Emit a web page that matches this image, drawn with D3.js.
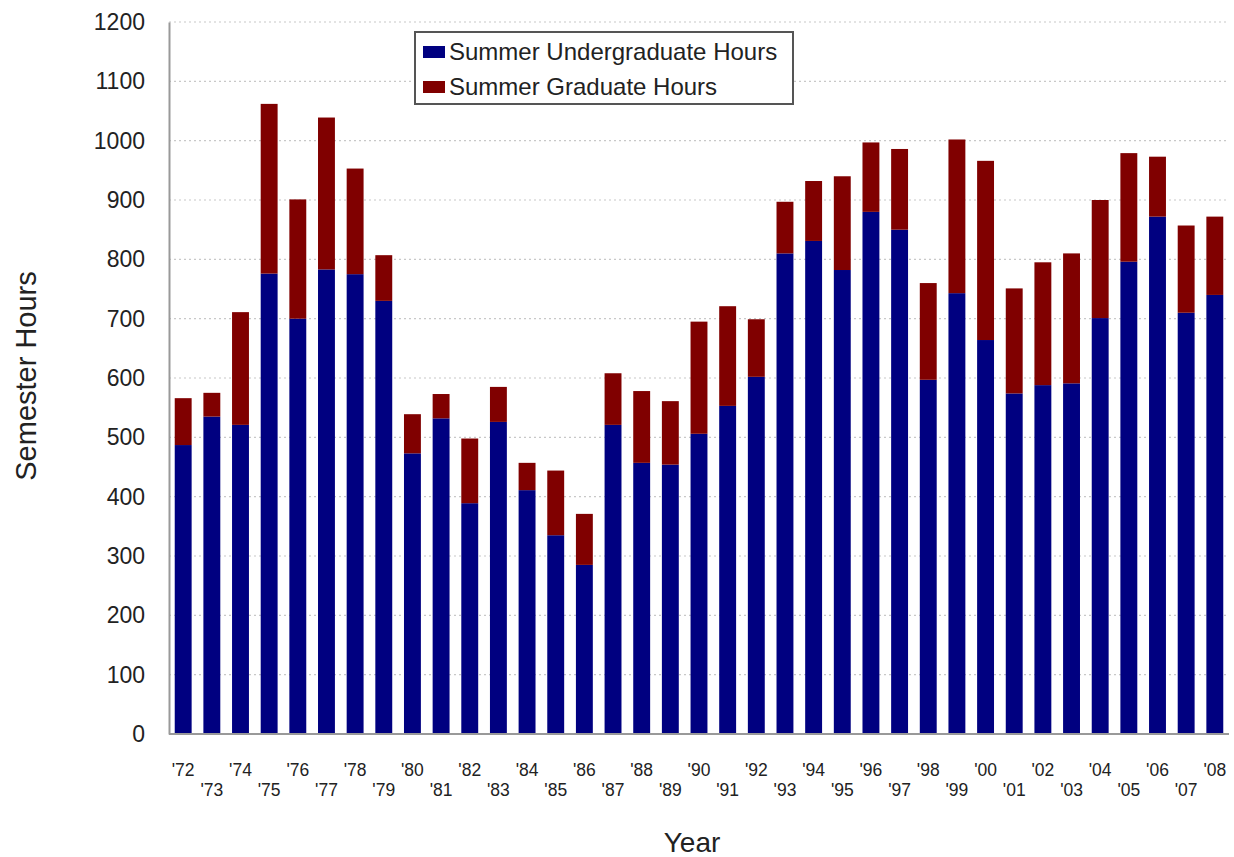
<!DOCTYPE html>
<html>
<head>
<meta charset="utf-8">
<script src="https://cdn.jsdelivr.net/npm/d3@7"></script>
<style>
  html, body { margin: 0; padding: 0; background: #fff; }
  text { font-family: "Liberation Sans", Arial, sans-serif; fill: #222; }
</style>
</head>
<body>
<svg id="chart" width="1234" height="857"></svg>
<script>
const years = ["'72","'73","'74","'75","'76","'77","'78","'79","'80","'81","'82","'83","'84","'85","'86","'87","'88","'89","'90","'91","'92","'93","'94","'95","'96","'97","'98","'99","'00","'01","'02","'03","'04","'05","'06","'07","'08"];
const undergrad = [487,535,521,776,700,783,775,730,473,532,389,526,411,335,285,521,457,454,506,553,602,810,831,782,880,850,597,743,664,574,588,591,701,796,872,710,740];
const graduate  = [79,40,190,286,201,256,178,77,66,41,109,59,46,109,86,87,121,107,189,168,97,87,101,158,117,136,163,259,302,177,207,219,199,183,101,147,132];
const yTicks = [0,100,200,300,400,500,600,700,800,900,1000,1100,1200];
const seriesNames = ["Summer Undergraduate Hours","Summer Graduate Hours"];
const seriesColors = ["#000080","#800000"];

const svg = d3.select("#chart");
const pLeft = 169, pRight = 1229, pTop = 22, pBottom = 734;

const x = d3.scaleBand().domain(years).range([pLeft, pRight]).paddingInner(0.41).paddingOuter(0.2);
const y = d3.scaleLinear().domain([0, 1200]).range([pBottom, pTop]);

// gridlines
svg.append("g").selectAll("line").data(yTicks.filter(d => d > 0)).join("line")
  .attr("x1", pLeft).attr("x2", pRight)
  .attr("y1", d => y(d)).attr("y2", d => y(d))
  .attr("stroke", "#c8c8c8").attr("stroke-width", 1.2).attr("stroke-dasharray", "2,3");

// stacked data
const rows = years.map((yr, i) => ({year: yr, u: undergrad[i], g: graduate[i]}));
const stack = d3.stack().keys(["u","g"])(rows);

svg.append("g").selectAll("g").data(stack).join("g")
  .attr("fill", (d, i) => seriesColors[i])
  .selectAll("rect").data(d => d).join("rect")
  .attr("x", d => x(d.data.year))
  .attr("width", x.bandwidth())
  .attr("y", d => y(d[1]))
  .attr("height", d => y(d[0]) - y(d[1]));

// y axis
const yAxis = d3.axisLeft(y).tickValues(yTicks).tickFormat(d3.format("d")).tickSize(0).tickPadding(24);
const gy = svg.append("g").attr("transform", `translate(${pLeft},0)`).call(yAxis);
gy.select(".domain").attr("stroke", "#999").attr("stroke-width", 2);
gy.selectAll("text").style("font-size", "23px").attr("fill", "#222");

// x axis
const xAxis = d3.axisBottom(x).tickSize(0).tickPadding(0);
const gx = svg.append("g").attr("transform", `translate(0,${pBottom})`).call(xAxis);
gx.select(".domain").attr("stroke", "#999").attr("stroke-width", 2).attr("d", `M${pLeft},0H${pRight}`);
gx.selectAll("text").style("font-size", "17.5px").attr("fill", "#222")
  .attr("dy", null)
  .attr("y", (d, i) => i % 2 === 0 ? 42 : 62);

// axis titles
svg.append("text").attr("x", 692).attr("y", 852).attr("text-anchor", "middle")
  .style("font-size", "28px").text("Year");
svg.append("text").attr("transform", "translate(36,376) rotate(-90)").attr("text-anchor", "middle")
  .style("font-size", "29px").text("Semester Hours");

// legend
const lg = svg.append("g");
lg.append("rect").attr("x", 415).attr("y", 32).attr("width", 378).attr("height", 72)
  .attr("fill", "#fff").attr("stroke", "#555").attr("stroke-width", 2);
seriesNames.forEach((name, i) => {
  const cy = 52 + i * 35;
  lg.append("rect").attr("x", 423).attr("y", cy - 6).attr("width", 22).attr("height", 12).attr("fill", seriesColors[i]);
  lg.append("text").attr("x", 449).attr("y", cy + 8).style("font-size", "24px").text(name);
});
</script>
</body>
</html>
